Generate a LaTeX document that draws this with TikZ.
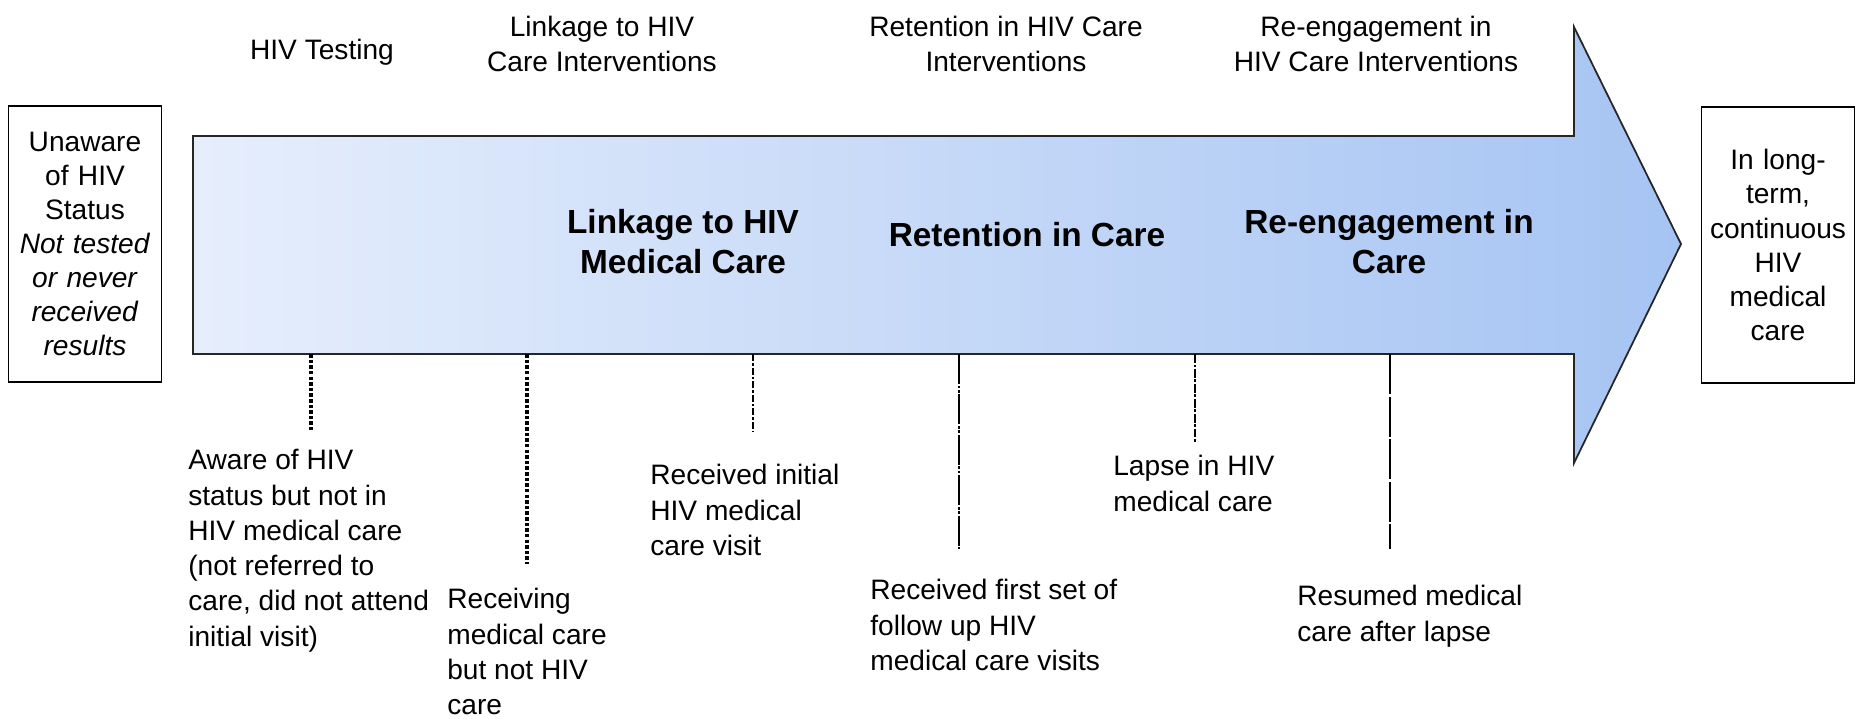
\documentclass[tikz,border=0pt]{standalone}
\usepackage{fontspec}
\setmainfont{Liberation Sans}
\usepackage{tikz}
\definecolor{arrowlight}{HTML}{E6EEFC}
\definecolor{arrowdark}{HTML}{A6C4F3}
\tikzstyle{arrowbody}=[draw=black!85,line width=1pt,left color=arrowlight,right color=arrowdark]
\tikzstyle{stagebox}=[rectangle,draw=black,line width=0.9pt,align=center,
minimum width=3.06cm,minimum height=5.52cm,text width=2.9cm,inner sep=0pt,font=\fontsize{16}{19.4}\selectfont]
\tikzstyle{intervention}=[align=center,inner sep=0pt,font=\fontsize{16}{20.4}\selectfont]
\tikzstyle{milestone}=[align=center,inner sep=0pt,font=\fontsize{19}{22.8}\selectfont\bfseries]
\tikzstyle{event}=[align=left,anchor=north west,inner sep=0pt,font=\fontsize{16}{20.1}\selectfont]
\tikzstyle{dotlink}=[line width=2.2pt,dash pattern=on 2pt off 1.2pt]
\tikzstyle{dashdotlink}=[line width=1.3pt,dash pattern=on 4pt off 1.1pt on 1.5pt off 1.1pt]
\tikzstyle{longdashdotlink}=[line width=1.3pt,dash pattern=on 17pt off 1pt on 1.5pt off 1pt on 1.5pt off 1pt]
\tikzstyle{shortdashlink}=[line width=1.3pt,dash pattern=on 5pt off 1pt on 1.5pt off 1pt]
\tikzstyle{longdashlink}=[line width=1.3pt,dash pattern=on 23pt off 1.2pt]
\usetikzlibrary{positioning}

\begin{document}
\begin{tikzpicture}[x=0.02cm,y=-0.02cm]
            \useasboundingbox (0,0) rectangle (1862,718);

            % ARROW PART

            \path[arrowbody] (193,136) -- (1574,136) -- (1574,27) -- (1681,244)
                -- (1574,463) -- (1574,354) -- (193,354) -- cycle;

            \node[milestone] (m1) at (683,242) {Linkage to HIV\\Medical Care};
            \node[milestone] (m2) at (1027,235) {Retention in Care};
            \node[milestone] (m3) at (1389,242) {Re-engagement in\\Care};

            % STATUS PART

            \node[stagebox] (b1) at (85,244) {Unaware\\of HIV\\Status\\\textit{Not tested}\\\textit{or never}\\\textit{received}\\\textit{results}};
            \node[stagebox] (b2) at (1778,245) {In long-\\term,\\continuous\\HIV\\medical\\care};

            % INTERVENTIONS PART

            \node[intervention] (i1) at (322,52) {HIV Testing};
            \node[intervention] (i2) at (602,44) {Linkage to HIV\\Care Interventions};
            \node[intervention] (i3) at (1006,44) {Retention in HIV Care\\Interventions};
            \node[intervention] (i4) at (1376,44) {Re-engagement in\\HIV Care Interventions};

            % EVENTS PART

            \coordinate (c1) at (311,354);  \coordinate (d1) at (311,430);
            \coordinate (c2) at (527,354);  \coordinate (d2) at (527,564);
            \coordinate (c3) at (753,354);  \coordinate (d3) at (753,432);
            \coordinate (c4) at (959,354);  \coordinate (d4) at (959,549);
            \coordinate (c5) at (1195,354); \coordinate (d5) at (1195,443);
            \coordinate (c6) at (1390,354); \coordinate (d6) at (1390,549);

            \node[event] (e1) at (188,449) {Aware of HIV\\status but not in\\HIV medical care\\(not referred to\\care, did not attend\\initial visit)};
            \node[event] (e2) at (447,588) {Receiving\\medical care\\but not HIV\\care};
            \node[event] (e3) at (650,464) {Received initial\\HIV medical\\care visit};
            \node[event] (e4) at (870,579) {Received first set of\\follow up HIV\\medical care visits};
            \node[event] (e5) at (1113,455) {Lapse in HIV\\medical care};
            \node[event] (e6) at (1297,585) {Resumed medical\\care after lapse};

            \path[dotlink] (c1) edge (d1);
            \path[dotlink] (c2) edge (d2);
            \path[dashdotlink] (c3) edge (d3);
            \path[longdashdotlink] (c4) edge (d4);
            \path[shortdashlink] (c5) edge (d5);
            \path[longdashlink] (c6) edge (d6);

\end{tikzpicture}
\end{document}
